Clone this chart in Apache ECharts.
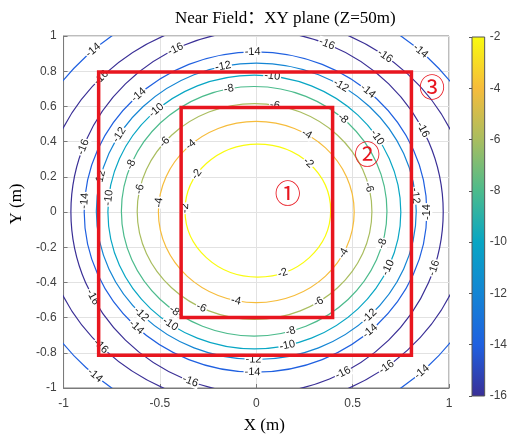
<!DOCTYPE html>
<html><head><meta charset="utf-8">
<script src="https://cdn.jsdelivr.net/npm/echarts@6/dist/echarts.min.js"></script>
<style>html,body{margin:0;padding:0;background:#fff}#c{width:510px;height:439px}</style>
</head><body><div id="c"></div>
<script>
// ---- data ----
const titleText = 'Near Field：XY plane (Z=50m)';
const xName = 'X (m)';
const yName = 'Y (m)';
// contour lines: level, centre and semi-axes (data units)
const levels   = [-2,    -4,    -6,     -8,     -10,   -12,   -14,    -16,   -16,  -14];
const centersX = [0.008, 0,     -0.009, -0.011, -0.01, 0,     -0.004, 0.004, 0,    0];
const centersY = [0.008, 0,     0.003,  0.004,  0,     0.004, 0,      0,     0,    0];
const radiiX   = [0.378, 0.508, 0.609,  0.689,  0.760, 0.830, 0.889,  0.966, 1.11, 1.25];
const radiiY   = [0.378, 0.515, 0.613,  0.709,  0.778, 0.842, 0.910,  1.03,  1.11, 1.25];
// inline contour labels: which contour, at which angle (deg)
const labelContour = [0,0,0,0, 1,1,1,1,1, 2,2,2,2,2,2, 3,3,3,3,3,3, 4,4,4,4,4,4,4, 5,5,5,5,5,5,5,5, 6,6,6,6,6,6,6,6, 7,7,7,7,7,7,7,7, 8,8,8,8, 9,9,9,9];
const labelAngle   = [147,178,46,-70, 132,174,59,-27,-102, 140,168,80,13,-57,-117, 158,101,48,-15,-74,-127, 132,174,83,33,-24,-77,-125, 149,167,102,58,6,-45,-91,-136, 133,176,91,49,0,-48,-91,-134, 159,116,68,27,-18,-62.5,-111,-152, 136.5,53,-136.6,-52.5, 132.6,47,-132,-46.6];
// red rectangles
const rectX1 = [-0.818, -0.39];
const rectY1 = [-0.814, -0.60];
const rectX2 = [0.805, 0.396];
const rectY2 = [0.795, 0.594];
// circled markers
const markerText = ['①', '②', '③'];
const markerX = [0.163, 0.576, 0.912];
const markerY = [0.105, 0.327, 0.709];
// axis ticks
const xMin = -1, xMax = 1, xStep = 0.5;
const yMin = -1, yMax = 1, yStep = 0.2;
const cbMin = -16, cbMax = -2, cbStep = 2;

// ---- style ----
const paletteStops = [
  [0.00, '#3a2f96'], [0.143, '#1f60e0'], [0.286, '#1485d4'], [0.429, '#08a6c4'],
  [0.571, '#4cbb8c'], [0.714, '#a9bd5f'], [0.857, '#f6bc3b'], [1.00, '#f9fb0e']
];
function hex2rgb(h){return [parseInt(h.substr(1,2),16),parseInt(h.substr(3,2),16),parseInt(h.substr(5,2),16)];}
function colorOf(v){
  const t = Math.max(0, Math.min(1, (v - cbMin) / (cbMax - cbMin)));
  for (let k = 1; k < paletteStops.length; k++) {
    if (t <= paletteStops[k][0] + 1e-9) {
      const a = paletteStops[k-1], b = paletteStops[k];
      const f = (t - a[0]) / (b[0] - a[0]);
      const ca = hex2rgb(a[1]), cb = hex2rgb(b[1]);
      return 'rgb(' + ca.map((c,j)=>Math.round(c + (cb[j]-c)*f)).join(',') + ')';
    }
  }
  return paletteStops[paletteStops.length-1][1];
}
const serif = '"Liberation Serif","Times New Roman","Noto Sans CJK SC",serif';
const sans = '"Liberation Sans",Arial,sans-serif';
const axisColor = '#7a7a7a';
const tickLabelColor = '#404040';

const chart = echarts.init(document.getElementById('c'), null, {renderer: 'canvas'});
chart.setOption({
  animation: false,
  backgroundColor: '#fff',
  title: {
    text: titleText, left: 170, top: 5,
    textStyle: {fontFamily: serif, fontSize: 17, fontWeight: 'normal', color: '#000'}
  },
  grid: [
    {left: 62, top: 36, width: 387, height: 360, show: true, borderColor: axisColor, borderWidth: 1, backgroundColor: '#fff'},
    {left: 472, top: 37, width: 15, height: 359, show: false}
  ],
  xAxis: [
    {
      gridIndex: 0, type: 'value', min: xMin, max: xMax, interval: xStep,
      name: xName, nameLocation: 'middle', nameGap: 29,
      nameTextStyle: {fontFamily: serif, fontSize: 17, color: '#000', padding: [0,0,0,16]},
      axisLine: {show: true, onZero: false, lineStyle: {color: axisColor}},
      axisTick: {show: true, inside: true, length: 4, lineStyle: {color: axisColor}},
      axisLabel: {fontFamily: sans, fontSize: 12, color: tickLabelColor, margin: 10,
        formatter: v => String(+v.toFixed(1))},
      splitLine: {show: true, lineStyle: {color: '#e2e2e2', width: 1}}
    },
    {gridIndex: 1, type: 'value', min: 0, max: 1, show: false}
  ],
  yAxis: [
    {
      gridIndex: 0, type: 'value', min: yMin, max: yMax, interval: yStep,
      name: yName, nameLocation: 'middle', nameGap: 33,
      nameTextStyle: {fontFamily: serif, fontSize: 17, color: '#000', padding: [0,0,0,16]},
      axisLine: {show: true, onZero: false, lineStyle: {color: axisColor}},
      axisTick: {show: true, inside: true, length: 4, lineStyle: {color: axisColor}},
      axisLabel: {fontFamily: sans, fontSize: 12, color: tickLabelColor, margin: 7,
        formatter: v => String(+v.toFixed(1))},
      splitLine: {show: true, lineStyle: {color: '#e2e2e2', width: 1}}
    },
    {
      gridIndex: 1, type: 'value', min: cbMin, max: cbMax, interval: cbStep, position: 'right',
      axisLine: {show: false},
      axisTick: {show: true, inside: true, length: 3, lineStyle: {color: '#555'}},
      axisLabel: {fontFamily: sans, fontSize: 12, color: tickLabelColor, margin: 5},
      splitLine: {show: false}
    }
  ],
  series: [
    { // contour lines
      type: 'custom', xAxisIndex: 0, yAxisIndex: 0, clip: true, z: 2,
      data: levels.map((L, i) => [centersX[i], centersY[i], radiiX[i], radiiY[i], L]),
      renderItem: function (params, api) {
        const c = api.coord([api.value(0), api.value(1)]);
        const s = api.size([api.value(2), api.value(3)]);
        return {type: 'ellipse', shape: {cx: c[0], cy: c[1], rx: s[0], ry: s[1]},
          style: {fill: 'none', stroke: colorOf(api.value(4)), lineWidth: 1.2}};
      }
    },
    { // contour labels
      type: 'custom', xAxisIndex: 0, yAxisIndex: 0, z: 3,
      data: labelContour.map((ci, k) => [ci, labelAngle[k]]),
      renderItem: function (params, api) {
        const i = api.value(0);
        const th = api.value(1) * Math.PI / 180;
        const x = centersX[i] + radiiX[i] * Math.cos(th);
        const y = centersY[i] + radiiY[i] * Math.sin(th);
        const p = api.coord([x, y]);
        const s = api.size([radiiX[i], radiiY[i]]);
        let ang = Math.atan2(s[1] * Math.cos(th), -s[0] * Math.sin(th));
        if (ang > Math.PI / 2 + 1e-6) ang -= Math.PI;
        if (ang <= -Math.PI / 2 + 1e-6) ang += Math.PI;
        return {type: 'text', x: p[0], y: p[1], rotation: ang,
          style: {text: String(levels[i]), fill: '#1a1a1a', font: '11px ' + sans,
            align: 'center', verticalAlign: 'middle', backgroundColor: '#fff', padding: [0, 1]}};
      }
    },
    { // red rectangles
      type: 'custom', xAxisIndex: 0, yAxisIndex: 0, z: 5,
      data: rectX1.map((v, k) => [v, rectY1[k], rectX2[k], rectY2[k]]),
      renderItem: function (params, api) {
        const a = api.coord([api.value(0), api.value(3)]);
        const b = api.coord([api.value(2), api.value(1)]);
        return {type: 'rect', shape: {x: a[0], y: a[1], width: b[0] - a[0], height: b[1] - a[1]},
          style: {fill: 'none', stroke: '#e8161f', lineWidth: 3.5}};
      }
    },
    { // circled markers
      type: 'custom', xAxisIndex: 0, yAxisIndex: 0, z: 6,
      data: markerX.map((v, k) => [v, markerY[k], k]),
      renderItem: function (params, api) {
        const p = api.coord([api.value(0), api.value(1)]);
        return {type: 'text', x: p[0], y: p[1],
          style: {text: markerText[api.value(2)], fill: '#e8161f', font: '26px "Noto Sans CJK SC"',
            align: 'center', verticalAlign: 'middle'}};
      }
    },
    { // colorbar
      type: 'custom', xAxisIndex: 1, yAxisIndex: 1, z: 2,
      data: [[cbMin, cbMax]],
      renderItem: function (params, api) {
        const a = api.coord([0, api.value(1)]);
        const b = api.coord([1, api.value(0)]);
        return {type: 'rect', shape: {x: a[0], y: a[1], width: b[0] - a[0], height: b[1] - a[1]},
          style: {
            fill: {type: 'linear', x: 0, y: 0, x2: 0, y2: 1,
              colorStops: paletteStops.map(s => ({offset: 1 - s[0], color: s[1]})).reverse()},
            stroke: '#555', lineWidth: 1}};
      }
    }
  ]
});
</script></body></html>
